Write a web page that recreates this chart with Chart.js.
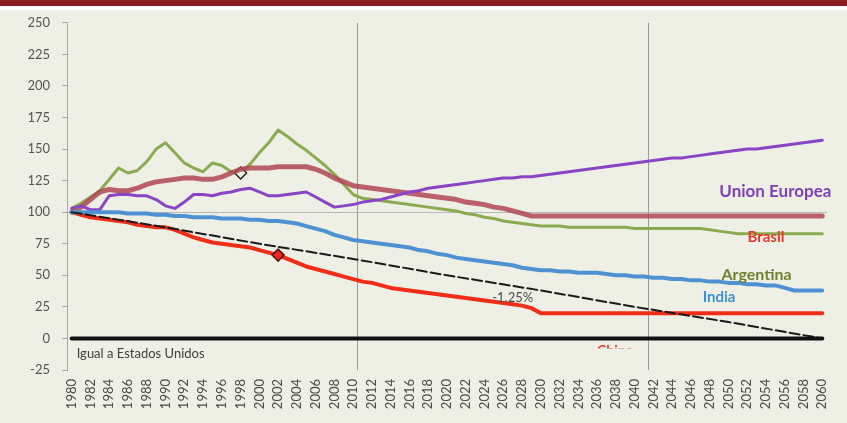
<!DOCTYPE html>
<html>
<head>
<meta charset="utf-8">
<script src="https://cdn.jsdelivr.net/npm/chart.js@4/dist/chart.umd.min.js"></script>
<style>
  body { margin: 0; background: #ffffff; }
  .topband { position: absolute; left: 0; top: 0; width: 847px; height: 6px; background: #8a1c1f; z-index: 2; }
  .gap { position: absolute; left: 0; top: 6px; width: 847px; height: 4px; background: #ffffff; z-index: 2; }
  .box { position: absolute; left: 0; top: 3px; width: 847px; height: 420px; background: #eff0e5; }
</style>
</head>
<body>
<div class="topband"></div>
<div class="gap"></div>
<div class="box"><canvas id="myChart" width="847" height="420"></canvas></div>
<script>
// years on the x axis
const years = [];
for (let y = 1980; y <= 2060; y++) years.push(String(y));

const yTicks = [-25, 0, 25, 50, 75, 100, 125, 150, 175, 200, 225, 250];

// series, one value per year 1980..2060
const china = [
  100, 98, 96, 95, 94, 93, 92, 90, 89, 88,
  88, 86, 83, 80, 78, 76, 75, 74, 73, 72,
  70, 68, 66, 63, 60, 57, 55, 53, 51, 49,
  47, 45, 44, 42, 40, 39, 38, 37, 36, 35,
  34, 33, 32, 31, 30, 29, 28, 27, 26, 24,
  20, 20, 20, 20, 20, 20, 20, 20, 20, 20,
  20, 20, 20, 20, 20, 20, 20, 20, 20, 20,
  20, 20, 20, 20, 20, 20, 20, 20, 20, 20,
  20
];
const india = [
  100, 100, 100, 100, 100, 100, 99, 99, 99, 98,
  98, 97, 97, 96, 96, 96, 95, 95, 95, 94,
  94, 93, 93, 92, 91, 89, 87, 85, 82, 80,
  78, 77, 76, 75, 74, 73, 72, 70, 69, 67,
  66, 64, 63, 62, 61, 60, 59, 58, 56, 55,
  54, 54, 53, 53, 52, 52, 52, 51, 50, 50,
  49, 49, 48, 48, 47, 47, 46, 46, 45, 45,
  44, 44, 43, 43, 42, 42, 40, 38, 38, 38,
  38
];
const argentina = [
  103, 107, 112, 117, 126, 135, 131, 133, 140, 150,
  155, 147, 139, 135, 132, 139, 137, 132, 131, 138,
  147, 155, 165, 160, 154, 149, 143, 137, 130, 122,
  114, 111, 110, 109, 108, 107, 106, 105, 104, 103,
  102, 101, 99, 98, 96, 95, 93, 92, 91, 90,
  89, 89, 89, 88, 88, 88, 88, 88, 88, 88,
  87, 87, 87, 87, 87, 87, 87, 87, 86, 85,
  84, 83, 83, 83, 83, 83, 83, 83, 83, 83,
  83
];
const brasil = [
  100, 104, 110, 116, 118, 117, 117, 119, 122, 124,
  125, 126, 127, 127, 126, 126, 128, 131, 134, 135,
  135, 135, 136, 136, 136, 136, 134, 131, 127, 124,
  121, 120, 119, 118, 117, 116, 115, 114, 113, 112,
  111, 110, 108, 107, 106, 104, 103, 101, 99, 97,
  97, 97, 97, 97, 97, 97, 97, 97, 97, 97,
  97, 97, 97, 97, 97, 97, 97, 97, 97, 97,
  97, 97, 97, 97, 97, 97, 97, 97, 97, 97,
  97
];
const unionEuropea = [
  103, 105, 102, 102, 113, 114, 114, 113, 113, 110,
  105, 103, 108, 114, 114, 113, 115, 116, 118, 119,
  116, 113, 113, 114, 115, 116, 112, 108, 104, 105,
  106, 108, 109, 110, 112, 114, 116, 117, 119, 120,
  121, 122, 123, 124, 125, 126, 127, 127, 128, 128,
  129, 130, 131, 132, 133, 134, 135, 136, 137, 138,
  139, 140, 141, 142, 143, 143, 144, 145, 146, 147,
  148, 149, 150, 150, 151, 152, 153, 154, 155, 156,
  157
];
// straight -1.25% reference, read every ten years
const ref125 = [
  100, null, null, null, null, null, null, null, null, null,
  88, null, null, null, null, null, null, null, null, null,
  75, null, null, null, null, null, null, null, null, null,
  63, null, null, null, null, null, null, null, null, null,
  50, null, null, null, null, null, null, null, null, null,
  38, null, null, null, null, null, null, null, null, null,
  25, null, null, null, null, null, null, null, null, null,
  13, null, null, null, null, null, null, null, null, null,
  0
];
const estadosUnidos = years.map(() => 0);

// text labels placed on the chart: [text, yearIndex, value, color, font, align]
const chartNotes = [
  ['Union Europea', 75, 116, '#7e3fb8', 'bold 17px Lato', 'center'],
  ['Brasil', 74, 80, '#e4382c', 'bold 15px Lato', 'center'],
  ['Argentina', 73, 50, '#6e8232', 'bold 16px Lato', 'center'],
  ['India', 69, 32.5, '#3e90d4', 'bold 15px Lato', 'center'],
  ['-1.25%', 47, 32.5, '#4a4a4a', '13px Lato', 'center'],
  ['Igual a Estados Unidos', 0, -12, '#404040', '13px Lato', 'left']
];

const notesPlugin = {
  id: 'notes',
  afterDatasetsDraw(chart) {
    const c = chart.ctx;
    const xs = chart.scales.x, ys = chart.scales.y;
    c.save();
    c.textBaseline = 'middle';
    chartNotes.forEach(n => {
      c.font = n[4];
      c.fillStyle = n[3];
      c.textAlign = n[5];
      c.fillText(n[0], xs.getPixelForValue(n[1]) + (n[5] === 'left' ? 5 : 0), ys.getPixelForValue(n[2]));
    });
    // "China" label, mostly hidden under the zero line
    const cx = xs.getPixelForValue(56), cy = ys.getPixelForValue(0);
    c.beginPath();
    c.rect(cx - 5, cy + 3, 60, 7);
    c.clip();
    c.font = 'bold 14px Lato';
    c.fillStyle = '#e4382c';
    c.textAlign = 'left';
    c.fillText('China', cx, cy + 12);
    c.restore();
  }
};

const ctx = document.getElementById('myChart').getContext('2d');
const myChart = new Chart(ctx, {
  type: 'line',
  data: {
    labels: years,
    datasets: [
      {
        label: 'Estados Unidos', data: estadosUnidos,
        borderColor: '#111111', borderWidth: 4, pointRadius: 0
      },
      {
        label: '-1.25%', data: ref125, spanGaps: true,
        borderColor: '#1a1a1a', borderWidth: 2, borderDash: [10, 4], pointRadius: 0
      },
      {
        label: 'India', data: india,
        borderColor: '#4f92d4', borderWidth: 4, pointRadius: 0
      },
      {
        label: 'China', data: china,
        borderColor: '#f22d17', borderWidth: 4,
        pointStyle: 'rectRot',
        pointRadius: c => c.dataIndex === 22 ? 6 : 0,
        pointBackgroundColor: '#e8281a', pointBorderColor: '#5a1010', pointBorderWidth: 1.5
      },
      {
        label: 'Union Europea', data: unionEuropea,
        borderColor: '#8a45c6', borderWidth: 3, pointRadius: 0
      },
      {
        label: 'Brasil', data: brasil,
        borderColor: 'rgba(176, 70, 84, 0.85)', borderWidth: 5, pointRadius: 0
      },
      {
        label: 'Argentina', data: argentina,
        borderColor: '#8aab50', borderWidth: 3,
        pointStyle: 'rectRot',
        pointRadius: c => c.dataIndex === 18 ? 6 : 0,
        pointBackgroundColor: '#eff0e5', pointBorderColor: '#222222', pointBorderWidth: 1.5
      }
    ]
  },
  options: {
    responsive: false,
    animation: false,
    layout: { padding: { top: 6, right: 19, left: 0, bottom: 0 } },
    elements: { line: { tension: 0, borderJoinStyle: 'round', borderCapStyle: 'round' } },
    scales: {
      x: {
        offset: true,
        afterFit: s => { s.height = 53; },
        border: { display: false },
        grid: {
          offset: true,
          drawTicks: false,
          lineWidth: 1,
          color: c => (c.index === 31 || c.index === 62) ? '#9a9a9a' : 'rgba(0,0,0,0)'
        },
        ticks: {
          autoSkip: false,
          maxRotation: 90,
          minRotation: 90,
          padding: 9,
          color: '#4a4a4a',
          font: { family: 'Lato', size: 13 },
          callback: function(v, i) { return i % 2 === 0 ? years[i] : ''; }
        }
      },
      y: {
        min: yTicks[0],
        max: yTicks[yTicks.length - 1],
        afterFit: s => { s.width = 67; },
        afterBuildTicks: s => { s.ticks = yTicks.map(v => ({ value: v })); },
        border: { display: true, color: '#a8a8a8', width: 1 },
        grid: {
          tickLength: 5,
          tickColor: '#a8a8a8',
          color: c => (c.tick && c.tick.value === 100) ? '#b8b8b8' : 'rgba(0,0,0,0)'
        },
        ticks: {
          padding: 12,
          color: '#555555',
          font: { family: 'Lato', size: 13 }
        }
      }
    },
    plugins: {
      legend: { display: false },
      tooltip: { enabled: false }
    }
  },
  plugins: [notesPlugin]
});
</script>
</body>
</html>
